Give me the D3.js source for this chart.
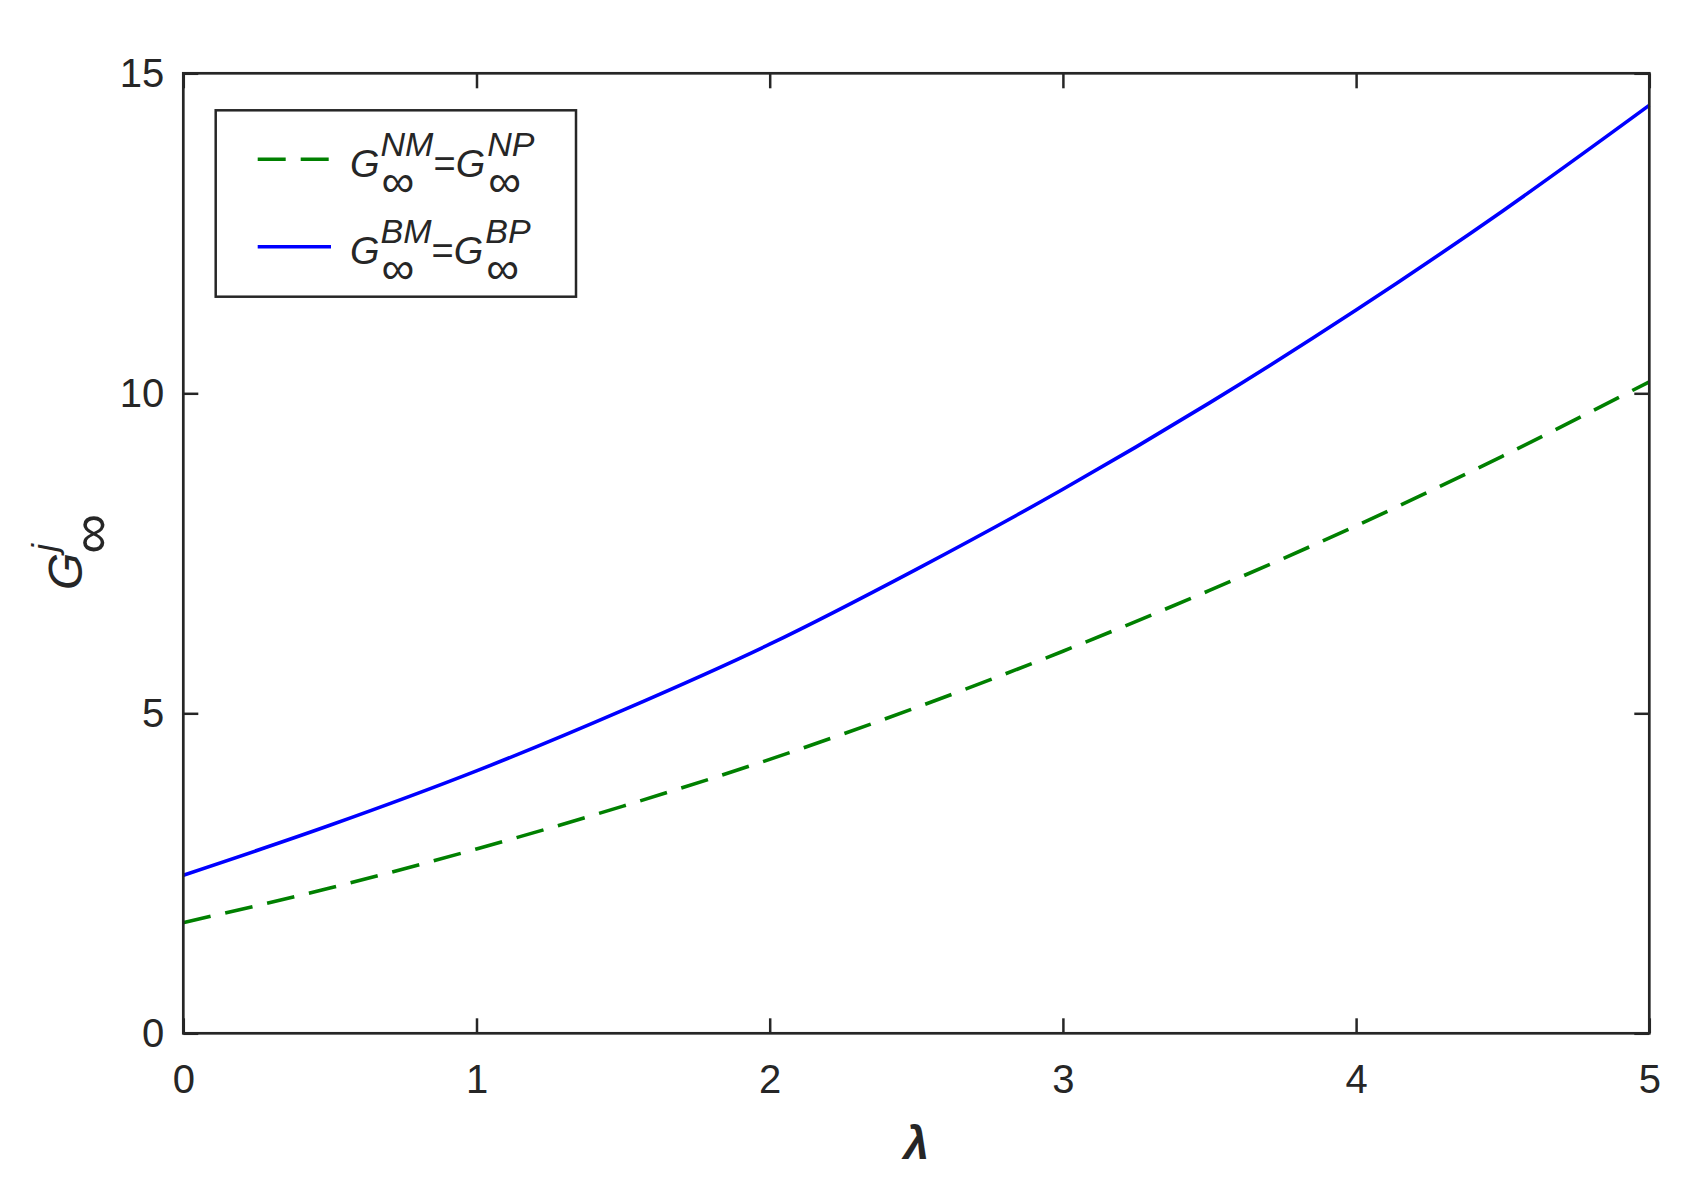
<!DOCTYPE html>
<html>
<head>
<meta charset="utf-8">
<script src="https://cdn.jsdelivr.net/npm/d3@7"></script>
<style>
  body { margin: 0; background: #fff; }
  svg { display: block; }
  text { font-family: "Liberation Sans", Arial, Helvetica, sans-serif; fill: #262626; }
</style>
</head>
<body>
<svg id="chart" width="1704" height="1192"></svg>
<script>
// ---- data ----
const lambdaValues = [0, 0.5, 1, 1.5, 2, 2.5, 3, 3.5, 4, 4.5, 5];
const seriesNM = [1.73, 2.27, 2.88, 3.55, 4.28, 5.09, 5.97, 6.92, 7.93, 9.02, 10.18];
const seriesBM = [2.47, 3.25, 4.10, 5.05, 6.08, 7.25, 8.50, 9.85, 11.30, 12.85, 14.50];
const xTicks = [0, 1, 2, 3, 4, 5];
const yTicks = [0, 5, 10, 15];

// ---- layout ----
const svg = d3.select("#chart");
const L = 183.3, R = 1649.3, T = 73.3, B = 1033.3;
const axisColor = "#262626";
const x = d3.scaleLinear().domain([0, 5]).range([L, R]);
const y = d3.scaleLinear().domain([0, 15]).range([B, T]);

svg.append("rect").attr("width", 1704).attr("height", 1192).attr("fill", "#fff");

// ---- lines ----
const line = d3.line().x(d => x(d[0])).y(d => y(d[1])).curve(d3.curveMonotoneX);
svg.append("path")
  .datum(lambdaValues.map((l, i) => [l, seriesNM[i]]))
  .attr("d", line).attr("fill", "none").attr("stroke", "#008000")
  .attr("stroke-width", 3.6).attr("stroke-dasharray", "28,15");
svg.append("path")
  .datum(lambdaValues.map((l, i) => [l, seriesBM[i]]))
  .attr("d", line).attr("fill", "none").attr("stroke", "#0000ff")
  .attr("stroke-width", 3.6);

// ---- axes (ticks inward on all sides) ----
const tickLen = 15;
function styleAxis(g) {
  g.select(".domain").remove();
  g.selectAll(".tick line").attr("stroke", axisColor).attr("stroke-width", 2.5);
  g.selectAll("text").style("font-size", "40px").attr("fill", axisColor)
    .style("font-family", '"Liberation Sans", Arial, sans-serif');
}
svg.append("g").attr("transform", `translate(0,${B})`)
  .call(d3.axisBottom(x).tickValues(xTicks).tickFormat(d3.format("d")).tickSize(-tickLen).tickPadding(31))
  .call(styleAxis);
svg.append("g").attr("transform", `translate(0,${T})`)
  .call(d3.axisTop(x).tickValues(xTicks).tickSize(-tickLen).tickFormat(""))
  .call(styleAxis);
svg.append("g").attr("transform", `translate(${L},0)`)
  .call(d3.axisLeft(y).tickValues(yTicks).tickFormat(d3.format("d")).tickSize(-tickLen).tickPadding(19))
  .call(styleAxis);
svg.append("g").attr("transform", `translate(${R},0)`)
  .call(d3.axisRight(y).tickValues(yTicks).tickSize(-tickLen).tickFormat(""))
  .call(styleAxis);

// frame
svg.append("rect").attr("x", L).attr("y", T).attr("width", R - L).attr("height", B - T)
  .attr("fill", "none").attr("stroke", axisColor).attr("stroke-width", 2.7);

// ---- axis labels ----
svg.append("text").attr("x", (L + R) / 2).attr("y", 1159)
  .attr("text-anchor", "middle").style("font-size", "46px")
  .style("font-weight", "bold").style("font-style", "italic").text("λ");

// helper: one <text> with tspans; base pieces advance, sup/sub stacked
function measure(str, fs, italic) {
  const t = svg.append("text").style("font-size", fs + "px")
    .style("font-style", italic ? "italic" : "normal").text(str);
  const w = t.node().getComputedTextLength();
  t.remove();
  return w;
}
function richLabel(parent, pieces, o) {
  const text = parent.append("text");
  let cx = 0;
  pieces.forEach(p => {
    if (p.base) {
      text.append("tspan").attr("x", cx).attr("y", 0)
        .style("font-size", o.fs + "px").style("font-style", p.italic ? "italic" : "normal")
        .text(p.base);
      cx += measure(p.base, o.fs, p.italic) + (p.gap || 0);
    } else {
      text.append("tspan").attr("x", cx).attr("y", o.supDy)
        .style("font-size", o.supFs + "px").style("font-style", "italic").text(p.sup);
      text.append("tspan").attr("x", cx + (o.subDx || 0)).attr("y", o.subDy)
        .style("font-size", o.subFs + "px").style("font-style", "normal").text(p.sub);
      const w = Math.max(measure(p.sup, o.supFs, true), measure(p.sub, o.subFs, false) + (o.subDx || 0));
      cx += w + (p.gap || 0);
    }
  });
  return text;
}

// y label
const yl = svg.append("g").attr("transform", `translate(82,590) rotate(-90)`);
richLabel(yl, [
  { base: "G", italic: true, gap: 1 },
  { sup: "j", sub: "∞" }
], { fs: 48, supFs: 35, supDy: -25, subFs: 56, subDy: 28, subDx: -2 });

// ---- legend ----
svg.append("rect").attr("x", 215.7).attr("y", 110.3).attr("width", 576 - 215.7).attr("height", 296.7 - 110.3)
  .attr("fill", "#fff").attr("stroke", axisColor).attr("stroke-width", 2.5);

const legendItems = [
  { color: "#008000", dash: "28,15", y: 159.3, sup1: "NM", sup2: "NP" },
  { color: "#0000ff", dash: null, y: 246.7, sup1: "BM", sup2: "BP" }
];
legendItems.forEach(it => {
  svg.append("line").attr("x1", 257.7).attr("x2", 331).attr("y1", it.y).attr("y2", it.y)
    .attr("stroke", it.color).attr("stroke-width", 3.6)
    .attr("stroke-dasharray", it.dash);
  const g = svg.append("g").attr("transform", `translate(350,${it.y + 17.5})`);
  richLabel(g, [
    { base: "G", italic: true, gap: 1 },
    { sup: it.sup1, sub: "∞", gap: 0 },
    { base: "=", italic: false, gap: 0 },
    { base: "G", italic: true, gap: 2 },
    { sup: it.sup2, sub: "∞" }
  ], { fs: 38, supFs: 34, supDy: -21, subFs: 46, subDy: 20, subDx: 1 });
});
</script>
</body>
</html>
